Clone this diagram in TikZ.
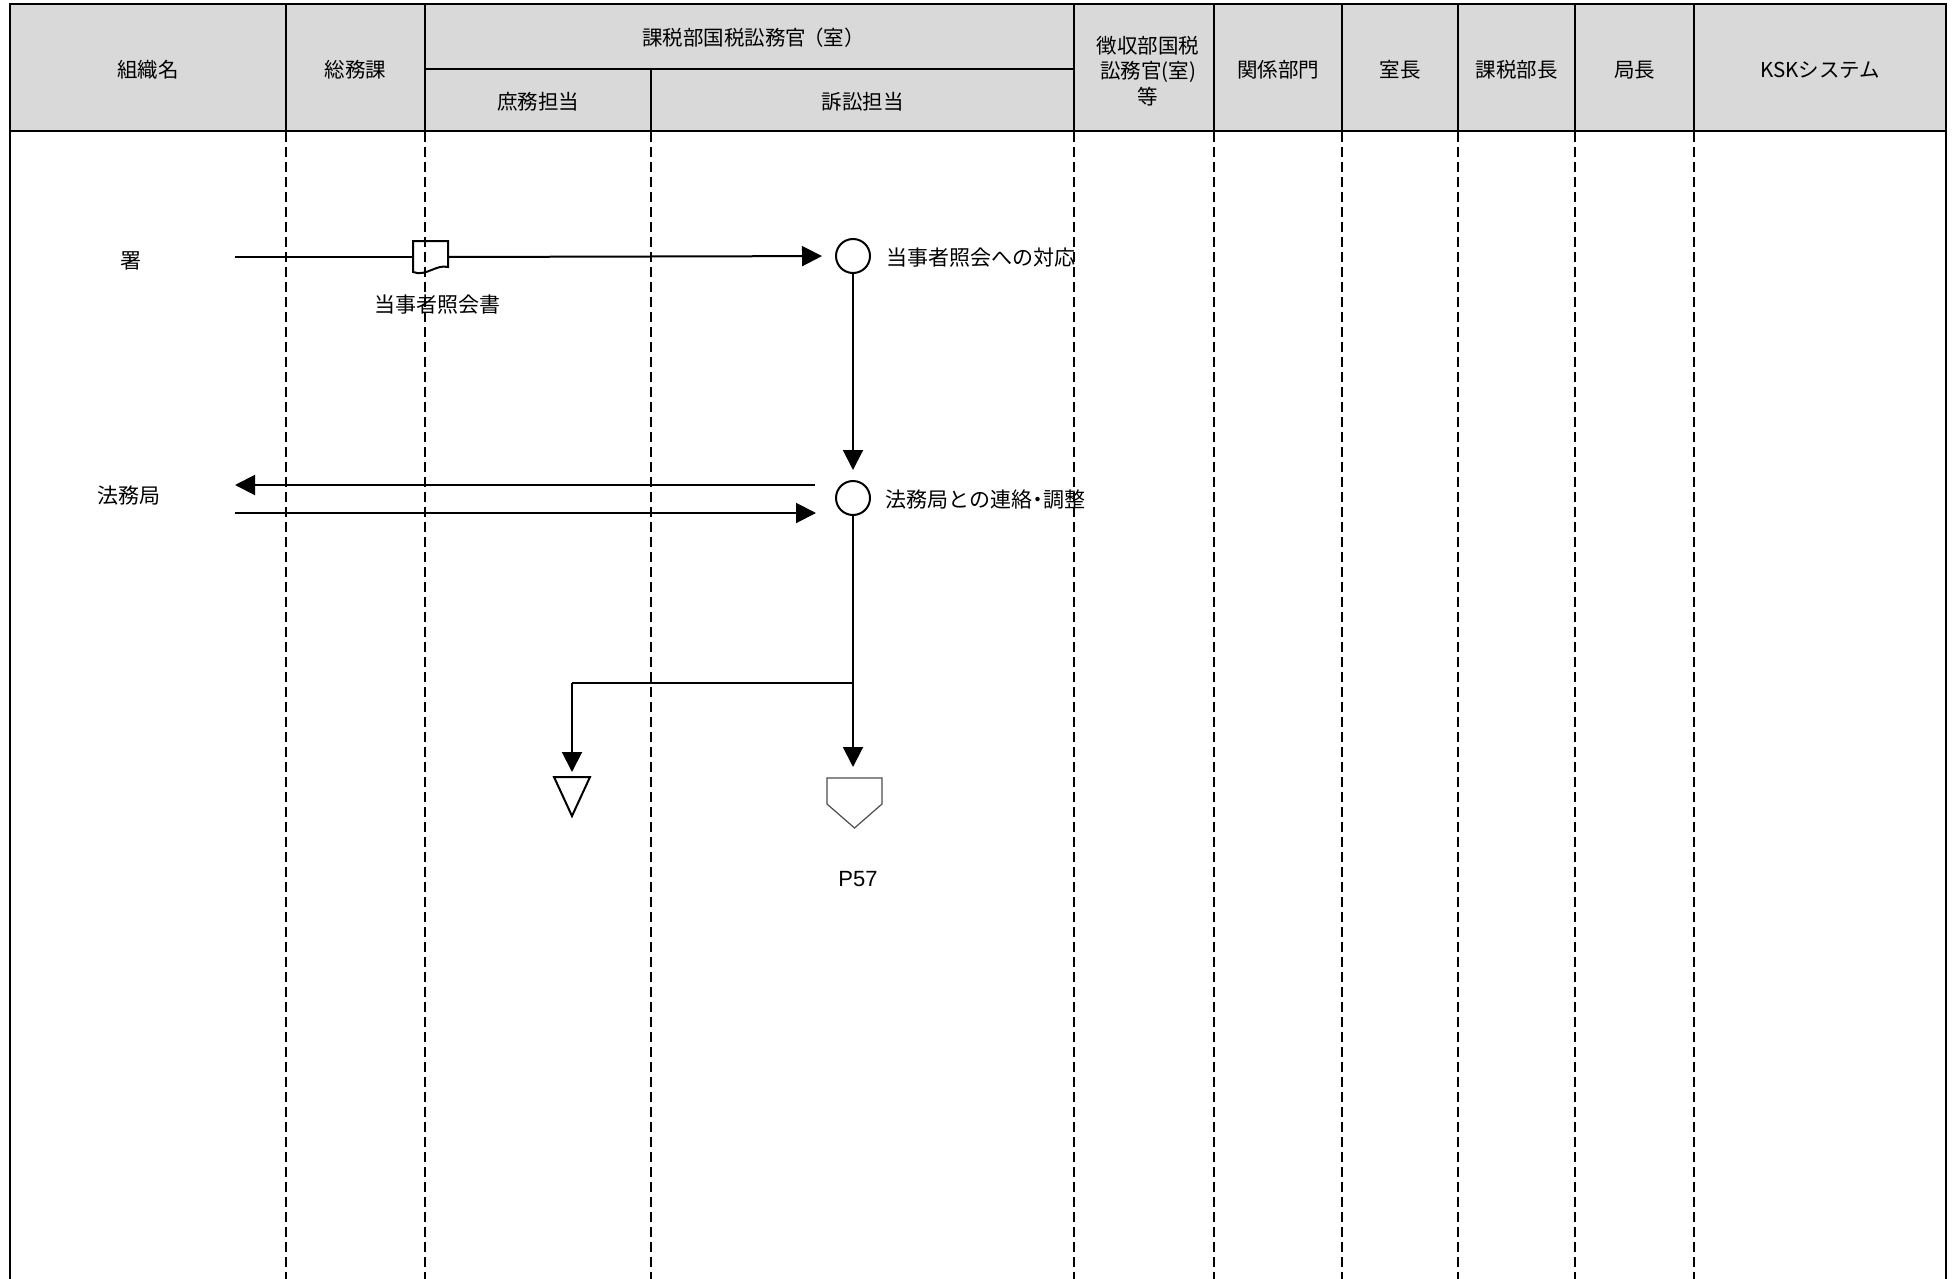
\documentclass[tikz,border=0pt]{standalone}
\usepackage{fontspec}
\setmainfont{Noto Sans CJK JP}
\newfontfamily\latinfont{Liberation Sans}
\usetikzlibrary{arrows.meta}
\definecolor{hdrgray}{RGB}{217,217,217}
\begin{document}
\begin{tikzpicture}[x=1pt,y=-1pt,
  hdr/.style={draw, line width=2pt, fill=hdrgray, inner sep=0pt},
  htxt/.style={inner sep=0pt, align=center, font=\fontsize{20.5}{25.6}\selectfont},
  lane/.style={line width=1.5pt, dash pattern=on 10pt off 5pt},
  border/.style={line width=2pt},
  flowline/.style={line width=2pt},
  flow/.style={line width=2pt, -{Triangle[length=20pt,width=20pt]}},
  proc/.style={circle, draw, line width=2pt, minimum size=34pt, inner sep=0pt},
  lbl/.style={font=\fontsize{21}{25}\selectfont, inner sep=0pt}]
\useasboundingbox (0,0) rectangle (1959,1279);
% header cells
\node[hdr, minimum width=276pt, minimum height=127pt] (hOrg) at (148,67.5) {};
\node[hdr, minimum width=139pt, minimum height=127pt] (hSoumu) at (355.5,67.5) {};
\node[hdr, minimum width=649pt, minimum height=65pt] (hKazei) at (749.5,36.5) {};
\node[hdr, minimum width=226pt, minimum height=62pt] (hShomu) at (538,100) {};
\node[hdr, minimum width=423pt, minimum height=62pt] (hSosho) at (862.5,100) {};
\node[hdr, minimum width=140pt, minimum height=127pt] (hChoshu) at (1144,67.5) {};
\node[hdr, minimum width=128pt, minimum height=127pt] (hKankei) at (1278,67.5) {};
\node[hdr, minimum width=116pt, minimum height=127pt] (hShitsu) at (1400,67.5) {};
\node[hdr, minimum width=117pt, minimum height=127pt] (hBucho) at (1516.5,67.5) {};
\node[hdr, minimum width=119pt, minimum height=127pt] (hKyoku) at (1634.5,67.5) {};
\node[hdr, minimum width=252pt, minimum height=127pt] (hKSK) at (1820,67.5) {};
% header texts
\node[htxt] (tOrg) at ([yshift=-2.5pt]hOrg.center) {組織名};
\node[htxt] (tSoumu) at ([yshift=-2.5pt]hSoumu.center) {総務課};
\node[htxt] (tKazei) at ([yshift=-1.5pt,xshift=4pt]hKazei.center) {課税部国税訟務官\kern-0.15em（室）};
\node[htxt] (tShomu) at ([yshift=-2pt]hShomu.center) {庶務担当};
\node[htxt] (tSosho) at ([yshift=-2pt]hSosho.center) {訴訟担当};
\node[htxt] (tChoshu) at ([yshift=-3.5pt,xshift=4pt]hChoshu.center) {徴収部国税\\訟務官(室)\\等};
\node[htxt] (tKankei) at ([yshift=-2.5pt]hKankei.center) {関係部門};
\node[htxt] (tShitsu) at ([yshift=-2.5pt]hShitsu.center) {室長};
\node[htxt] (tBucho) at ([yshift=-2.5pt]hBucho.center) {課税部長};
\node[htxt] (tKyoku) at ([yshift=-2.5pt]hKyoku.center) {局長};
\node[htxt] (tKSK) at ([yshift=-2.5pt]hKSK.center) {KSKシステム};
% lanes
\draw[border] (10,131) -- (10,1279);
\draw[border] (1946,131) -- (1946,1279);
\foreach \x in {286,425,651,1074,1214,1342,1458,1575,1694}
  \draw[lane] (\x,132) -- (\x,1279);
% flow
\node[lbl] (sho) at (131,261) {署};
\coordinate (shoR) at (235,257);
\draw[line width=2pt] (413,241) -- (448,241) -- (448,267) .. controls (436,264) and (426,277) .. (413,272) -- cycle;
\coordinate (docL) at (413,257);
\coordinate (docR) at (448,257);
\node[lbl] (docT) at (437,305) {当事者照会書};
\node[proc] (c1) at (853,256) {};
\node[lbl, anchor=west] (c1T) at (886,258) {当事者照会への対応};
\draw[flowline] (shoR) -- (docL);
\draw[flow, shorten >=13pt] (docR) -- (c1);
\node[proc] (c2) at (853,498) {};
\node[lbl, anchor=west] (c2T) at (885,500) {法務局との連絡\kern-0.22em・\kern-0.22em調整};
\draw[flow, shorten >=10pt] (c1) -- (c2);
\node[lbl] (hom) at (129,496) {法務局};
\coordinate (homA) at (235,485);
\coordinate (homB) at (235,513);
\coordinate (c2A) at (815,485);
\coordinate (c2B) at (816,513);
\draw[flow] (c2A) -- (homA);
\draw[flow] (homB) -- (c2B);
\coordinate (j) at (853,683);
\coordinate (jL) at (572,683);
\draw[flowline] (c2) -- (j) -- (jL);
\draw[line width=2pt] (554,777) -- (590,777) -- (572,816) -- cycle;
\coordinate (triT) at (572,777);
\draw[flow, shorten >=5pt] (jL) -- (triT);
\draw[line width=1.2pt, gray!60!black] (827,778) -- (882,778) -- (882,804) -- (854.5,828) -- (827,804) -- cycle;
\coordinate (pentT) at (853,778);
\draw[flow, shorten >=11pt] (j) -- (pentT);
\node[lbl, font=\latinfont\fontsize{22}{26}\selectfont] (p57) at (858,879) {P57};
\end{tikzpicture}
\end{document}
